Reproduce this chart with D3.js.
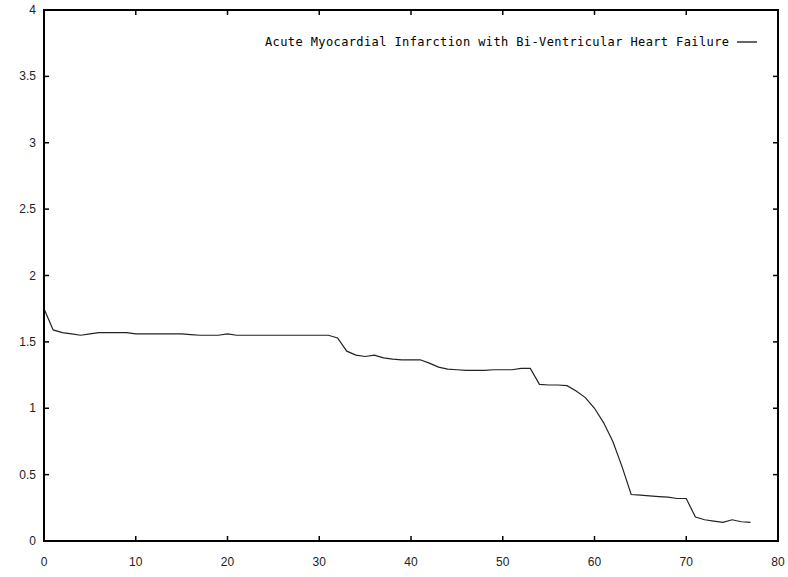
<!DOCTYPE html>
<html><head><meta charset="utf-8">
<script src="https://cdn.jsdelivr.net/npm/d3@7"></script>
<style>body{margin:0;background:#fff}svg{display:block}</style>
</head><body>
<svg id="c" width="788" height="577"></svg>
<script>
const seriesName = "Acute Myocardial Infarction with Bi-Ventricular Heart Failure";
const xValues = d3.range(0, 78);
const yValues = [
 1.75,1.59,1.57,1.56,1.55,1.56,1.57,1.57,1.57,1.57,
 1.56,1.56,1.56,1.56,1.56,1.56,1.555,1.55,1.55,1.55,
 1.56,1.55,1.55,1.55,1.55,1.55,1.55,1.55,1.55,1.55,
 1.55,1.55,1.53,1.43,1.40,1.39,1.40,1.38,1.37,1.365,
 1.365,1.365,1.34,1.31,1.295,1.29,1.285,1.285,1.285,1.29,
 1.29,1.29,1.30,1.30,1.18,1.175,1.175,1.17,1.13,1.08,
 1.00,0.89,0.75,0.56,0.35,0.345,0.34,0.335,0.33,0.32,
 0.32,0.18,0.16,0.15,0.14,0.16,0.145,0.14
];
const xTicks = [0,10,20,30,40,50,60,70,80];
const yTicks = [0,0.5,1,1.5,2,2.5,3,3.5,4];
const yTickLabels = ["0","0.5","1","1.5","2","2.5","3","3.5","4"];

const svg = d3.select("#c");
const L=44, R=778, T=10, B=541;
const x = d3.scaleLinear().domain([0,80]).range([L,R]);
const y = d3.scaleLinear().domain([0,4]).range([B,T]);
const tickFont = "'Liberation Sans', Arial, sans-serif";

// ticks (inward, mirrored)
const tl = 5;
const g = svg.append("g").attr("stroke","#000").attr("stroke-width",1.5);
xTicks.forEach(v=>{
  g.append("line").attr("x1",x(v)).attr("x2",x(v)).attr("y1",B).attr("y2",B-tl);
  g.append("line").attr("x1",x(v)).attr("x2",x(v)).attr("y1",T).attr("y2",T+tl);
});
yTicks.forEach(v=>{
  g.append("line").attr("x1",L).attr("x2",L+tl).attr("y1",y(v)).attr("y2",y(v));
  g.append("line").attr("x1",R).attr("x2",R-tl).attr("y1",y(v)).attr("y2",y(v));
});

// tick labels
svg.append("g").selectAll("text").data(xTicks).join("text")
  .attr("x",d=>x(d)).attr("y",566).attr("text-anchor","middle")
  .attr("font-family",tickFont).attr("font-size",12).attr("fill","#222")
  .text(d=>d);
svg.append("g").selectAll("text").data(yTicks).join("text")
  .attr("x",36).attr("y",d=>y(d)+4).attr("text-anchor","end")
  .attr("font-family",tickFont).attr("font-size",12).attr("fill","#222")
  .text((d,i)=>yTickLabels[i]);

// data line
const line = d3.line().x((d,i)=>x(xValues[i])).y(d=>y(d));
svg.append("path").datum(yValues).attr("d",line)
  .attr("fill","none").attr("stroke","#222").attr("stroke-width",1.2);

// frame
svg.append("rect").attr("x",L).attr("y",T).attr("width",R-L).attr("height",B-T)
  .attr("fill","none").attr("stroke","#000").attr("stroke-width",2);

// legend
svg.append("text").attr("x",729).attr("y",46).attr("text-anchor","end")
  .attr("font-family","'DejaVu Sans Mono', monospace").attr("font-size",12)
  .attr("textLength",464).attr("lengthAdjust","spacing")
  .attr("fill","#000").text(seriesName);
svg.append("line").attr("x1",737).attr("x2",757).attr("y1",42).attr("y2",42)
  .attr("stroke","#000").attr("stroke-width",1.2);
</script>
</body></html>
